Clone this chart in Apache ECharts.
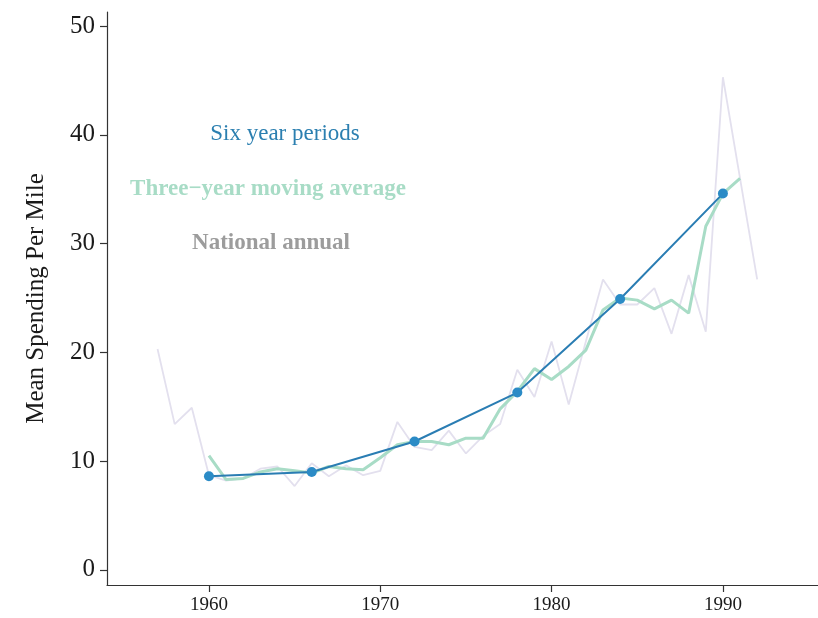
<!DOCTYPE html>
<html>
<head>
<meta charset="utf-8">
<script src="https://cdn.jsdelivr.net/npm/echarts@6/dist/echarts.min.js"></script>
<style>html,body{margin:0;padding:0;background:#fff}#c{width:818px;height:618px}</style>
</head>
<body>
<div id="c"></div>
<script>
const annualYears = [1957,1958,1959,1960,1961,1962,1963,1964,1965,1966,1967,1968,1969,1970,1971,1972,1973,1974,1975,1976,1977,1978,1979,1980,1981,1982,1983,1984,1985,1986,1987,1988,1989,1990,1991,1992];
const annualValues = [20.3,13.4,14.9,8.7,8.2,8.4,9.3,9.5,7.7,9.8,8.6,9.6,8.7,9.1,13.6,11.3,11.0,12.8,10.7,12.3,13.4,18.4,15.9,21.0,15.2,21.0,26.7,24.4,24.4,25.9,21.7,27.1,21.9,45.3,36.0,26.7];
const maYears = [1960,1961,1962,1963,1964,1965,1966,1967,1968,1969,1970,1971,1972,1973,1974,1975,1976,1977,1978,1979,1980,1981,1982,1983,1984,1985,1986,1987,1988,1989,1990,1991];
const maValues = [10.5,8.3,8.4,9.0,9.3,9.1,8.9,9.5,9.3,9.2,10.3,11.5,11.8,11.8,11.5,12.1,12.1,14.8,16.4,18.5,17.5,18.7,20.2,23.9,25.0,24.8,24.0,24.8,23.6,31.6,34.6,36.0];
const sixYears = [1960,1966,1972,1978,1984,1990];
const sixValues = [8.6,9.0,11.8,16.3,24.9,34.6];
const yTicks = [0,10,20,30,40,50];
const xTicks = [1960,1970,1980,1990];

const zip = (a,b) => a.map((v,i)=>[v,b[i]]);
const chart = echarts.init(document.getElementById('c'));
const serif = 'Liberation Serif';
chart.setOption({
  animation:false,
  grid:{left:107, right:0, top:12, bottom:33},
  xAxis:{type:'value', min:1954.05, max:1995.55,
    axisLine:{show:true, onZero:false, lineStyle:{color:'#333', width:1.2}},
    axisTick:{show:true, length:7, customValues:xTicks, lineStyle:{color:'#333', width:1.2}},
    axisLabel:{customValues:xTicks, formatter:v=>String(v), fontFamily:serif, fontSize:19, color:'#1a1a1a', margin:11},
    splitLine:{show:false}},
  yAxis:{type:'value', min:-1.4, max:51.3,
    name:'Mean Spending Per Mile', nameLocation:'middle', nameGap:58,
    nameTextStyle:{fontFamily:serif, fontSize:25, color:'#1a1a1a'},
    axisLine:{show:true, onZero:false, lineStyle:{color:'#333', width:1.2}},
    axisTick:{show:true, length:7, customValues:yTicks, lineStyle:{color:'#333', width:1.2}},
    axisLabel:{customValues:yTicks, fontFamily:serif, fontSize:25, color:'#1a1a1a', margin:12},
    splitLine:{show:false}},
  series:[
    {type:'line', data:zip(annualYears, annualValues), symbol:'none', lineStyle:{color:'#e3e0ee', width:1.8}, z:1},
    {type:'line', data:zip(maYears, maValues), symbol:'none', lineStyle:{color:'#a8dcc6', width:3}, z:2},
    {type:'line', data:zip(sixYears, sixValues), symbol:'circle', symbolSize:10,
      itemStyle:{color:'#2b8bc6'}, lineStyle:{color:'#2a7db3', width:2}, z:3}
  ],
  graphic:[
    {type:'text', x:285, y:134, style:{text:'Six year periods', fill:'#2b7fb0', font:'23px "Liberation Serif"', align:'center', verticalAlign:'middle'}},
    {type:'text', x:268, y:189, style:{text:'Three\u2212year moving average', fill:'#a8dcc6', font:'bold 23px "Liberation Serif"', align:'center', verticalAlign:'middle'}},
    {type:'text', x:271, y:243, style:{text:'National annual', fill:'#9c9c9c', font:'bold 23px "Liberation Serif"', align:'center', verticalAlign:'middle'}}
  ]
});
</script>
</body>
</html>
